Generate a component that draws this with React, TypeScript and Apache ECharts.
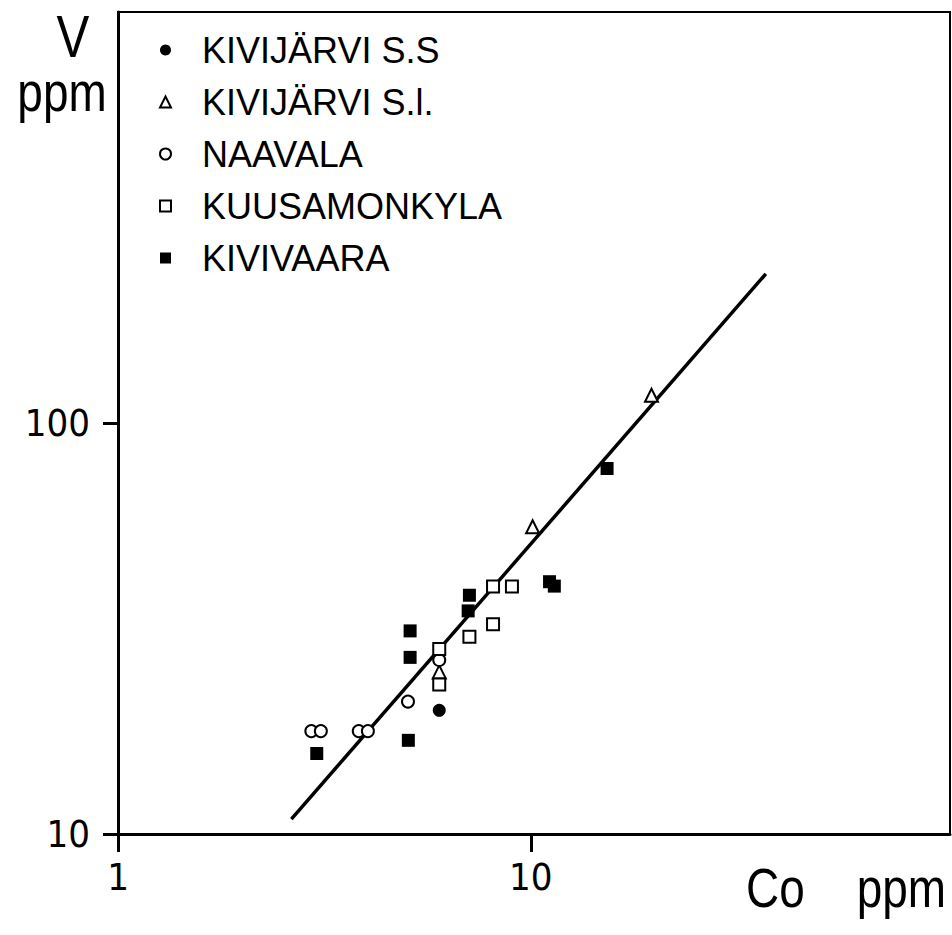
import React, { useEffect, useRef } from "react";
import * as echarts from "echarts";

// ---- data (Co ppm, V ppm) ----
const seriesNames = ["KIVIJÄRVI S.S", "KIVIJÄRVI S.l.", "NAAVALA", "KUUSAMONKYLA", "KIVIVAARA"];

const kivijarviSSCo = [6];
const kivijarviSSV = [20];

const kivijarviSLCo = [10.1, 19.6, 6];
const kivijarviSLV = [55.9, 116.8, 24.8];

const naavalaCo = [2.94, 3.1, 3.83, 4.03, 5.04, 6];
const naavalaV = [17.8, 17.8, 17.8, 17.8, 21.0, 26.5];

const kuusamonkylaCo = [6, 6, 7.1, 8.1, 9.0, 8.1];
const kuusamonkylaV = [28.2, 23.1, 30.2, 40.0, 40.0, 32.4];

const kivivaaraCo = [5.1, 5.1, 5.05, 3.03, 7.1, 7.05, 11.1, 11.4, 15.3];
const kivivaaraV = [31.2, 26.9, 16.9, 15.7, 38.1, 34.9, 41.1, 40.1, 77.5];

const trendCo = [2.63, 37.1];
const trendV = [10.87, 230.7];

const xTickValues = [1, 10];
const yTickValues = [10, 100];

const pair = (xs: number[], ys: number[]) => xs.map((x, i) => [x, ys[i]]);

const NARROW = '"Liberation Sans Narrow", "DejaVu Sans Condensed", "Liberation Sans", sans-serif';
const TITLE_FONT = '"Liberation Sans", sans-serif';
const LEGEND_FONT = '"Liberation Sans", "DejaVu Sans", sans-serif';

export default function App() {
  const ref = useRef<HTMLDivElement>(null);

  useEffect(() => {
    if (!ref.current) return;
    const chart = echarts.init(ref.current, undefined, { renderer: "svg" });

    const openStyle = { color: "#fff", borderColor: "#000", borderWidth: 2, opacity: 1 };
    const filledStyle = { color: "#000", borderColor: "#000", borderWidth: 0, opacity: 1 };

    const mkText = (text: string, x: number, y: number, size: number, align: string) => ({
      type: "text",
      silent: true,
      x,
      y,
      scaleX: 0.82,
      scaleY: 1,
      style: {
        text,
        x: 0,
        y: 0,
        fill: "#000",
        fontSize: size,
        fontFamily: TITLE_FONT,
        align,
        textAlign: align,
        verticalAlign: "middle",
        textVerticalAlign: "middle",
      },
    });

    chart.setOption({
      animation: false,
      backgroundColor: "#fff",
      grid: {
        left: 118,
        top: 12,
        width: 832,
        height: 822,
        show: true,
        borderColor: "#000",
        borderWidth: 2,
        backgroundColor: "transparent",
      },
      xAxis: {
        type: "log",
        logBase: 10,
        min: 1,
        max: 103.6,
        axisLine: { show: true, lineStyle: { color: "#000", width: 3 } },
        axisTick: {
          show: true,
          inside: false,
          length: 18,
          lineStyle: { color: "#000", width: 3 },
          customValues: xTickValues,
        },
        axisLabel: {
          customValues: xTickValues,
          color: "#000",
          fontSize: 38,
          fontFamily: NARROW,
          margin: 24,
          formatter: (v: number) => String(Math.round(v)),
        },
        splitLine: { show: false },
        minorTick: { show: false },
      },
      yAxis: {
        type: "log",
        logBase: 10,
        min: 10,
        max: 1000,
        axisLine: { show: true, lineStyle: { color: "#000", width: 3 } },
        axisTick: {
          show: true,
          inside: false,
          length: 15,
          lineStyle: { color: "#000", width: 3 },
          customValues: yTickValues,
        },
        axisLabel: {
          customValues: yTickValues,
          color: "#000",
          fontSize: 38,
          fontFamily: NARROW,
          margin: 28,
          formatter: (v: number) => String(Math.round(v)),
        },
        splitLine: { show: false },
        minorTick: { show: false },
      },
      legend: {
        data: seriesNames,
        orient: "vertical",
        left: 159,
        top: 30,
        padding: 0,
        itemWidth: 11,
        itemHeight: 11,
        itemGap: 12,
        selectedMode: false,
        textStyle: {
          color: "#000",
          fontSize: 36,
          fontFamily: LEGEND_FONT,
          lineHeight: 40,
          padding: [0, 0, 0, 26],
        },
      },
      graphic: [
        mkText("V", 73, 36, 60, "center"),
        mkText("ppm", 62, 92, 56, "center"),
        mkText("Co", 746, 888, 56, "left"),
        mkText("ppm", 946, 888, 56, "right"),
      ],
      series: [
        {
          type: "line",
          name: "trend",
          data: pair(trendCo, trendV),
          showSymbol: false,
          symbol: "none",
          lineStyle: { color: "#000", width: 3.5 },
          z: 1,
          silent: true,
        },
        {
          type: "scatter",
          name: seriesNames[0],
          data: pair(kivijarviSSCo, kivijarviSSV),
          symbol: "circle",
          symbolSize: 13,
          itemStyle: filledStyle,
          z: 3,
        },
        {
          type: "scatter",
          name: seriesNames[1],
          data: pair(kivijarviSLCo, kivijarviSLV),
          symbol: "triangle",
          symbolSize: 13,
          itemStyle: openStyle,
          z: 3,
        },
        {
          type: "scatter",
          name: seriesNames[2],
          data: pair(naavalaCo, naavalaV),
          symbol: "circle",
          symbolSize: 12,
          itemStyle: openStyle,
          z: 3,
        },
        {
          type: "scatter",
          name: seriesNames[3],
          data: pair(kuusamonkylaCo, kuusamonkylaV),
          symbol: "rect",
          symbolSize: 12,
          itemStyle: openStyle,
          z: 3,
        },
        {
          type: "scatter",
          name: seriesNames[4],
          data: pair(kivivaaraCo, kivivaaraV),
          symbol: "rect",
          symbolSize: 13,
          itemStyle: filledStyle,
          z: 3,
        },
      ],
    });

    return () => chart.dispose();
  }, []);

  return (
    <div
      ref={ref}
      style={{ position: "fixed", left: 0, top: 0, width: 952, height: 935, background: "#fff" }}
    />
  );
}
